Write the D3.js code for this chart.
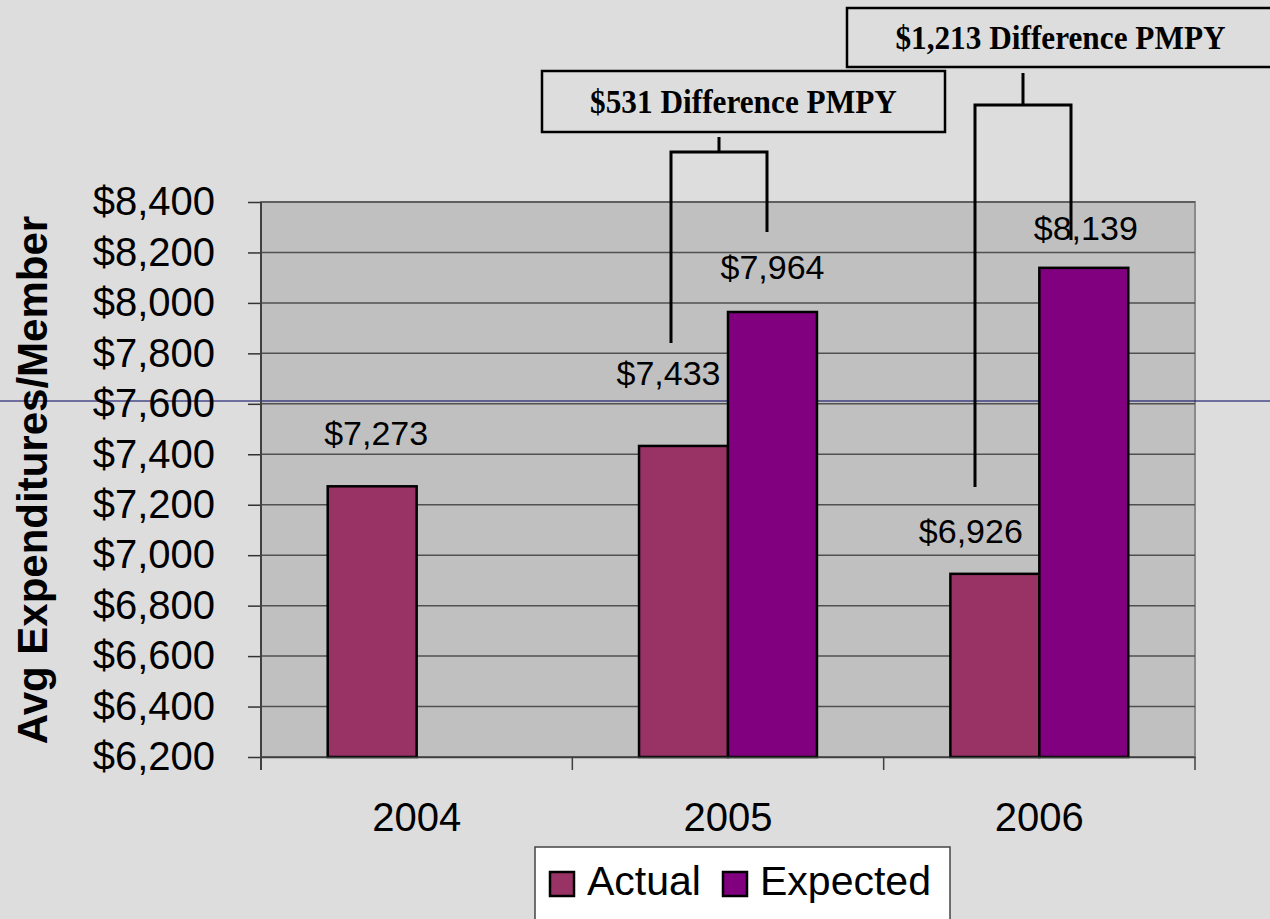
<!DOCTYPE html>
<html>
<head>
<meta charset="utf-8">
<script src="https://cdn.jsdelivr.net/npm/d3@7"></script>
<style>
  html, body { margin: 0; padding: 0; background: #dddddd; }
  svg { display: block; }
</style>
</head>
<body>
<svg class="chart"></svg>
<script>
// Data
const years = ["2004", "2005", "2006"];
const seriesNames = ["Actual", "Expected"];
const actual = [7273, 7433, 6926];
const expected = [null, 7964, 8139];
const yTicks = d3.range(6200, 8401, 200);

const colors = { Actual: "#993366", Expected: "#800080" };

const width = 1270;
const height = 919;
const plot = { left: 261, right: 1195, top: 202, bottom: 757 };

const svg = d3.select("svg.chart")
  .attr("width", width)
  .attr("height", height)
  .attr("viewBox", `0 0 ${width} ${height}`)
  .style("font-family", "'Liberation Sans', Arial, sans-serif");

svg.append("rect")
  .attr("width", width)
  .attr("height", height)
  .attr("fill", "#dddddd");

// Scales
const x = d3.scaleBand()
  .domain(years)
  .range([plot.left, plot.right])
  .padding(0);

const xSub = d3.scaleBand()
  .domain(seriesNames)
  .range([0, x.bandwidth()])
  .paddingInner(0)
  .paddingOuter(0.75);

const y = d3.scaleLinear()
  .domain([6200, 8400])
  .range([plot.bottom, plot.top]);

const fmt = d => "$" + d3.format(",")(d);

// Plot area
svg.append("rect")
  .attr("x", plot.left)
  .attr("y", plot.top)
  .attr("width", plot.right - plot.left)
  .attr("height", plot.bottom - plot.top)
  .attr("fill", "#c0c0c0")
  .attr("stroke", "#8a8a8a")
  .attr("stroke-width", 2);

// Gridlines
svg.append("g")
  .selectAll("line")
  .data(yTicks)
  .join("line")
  .attr("x1", plot.left)
  .attr("x2", plot.right)
  .attr("y1", d => y(d))
  .attr("y2", d => y(d))
  .attr("stroke", "#505050")
  .attr("stroke-width", 1.5);

// stray slide line
svg.append("line")
  .attr("x1", 0)
  .attr("x2", width)
  .attr("y1", 401)
  .attr("y2", 401)
  .attr("stroke", "#000060")
  .attr("stroke-width", 1);

// Bars
const rows = years.map((yr, i) => ({ year: yr, Actual: actual[i], Expected: expected[i] }));
const bars = rows.flatMap(r => seriesNames
  .filter(k => r[k] != null)
  .map(k => ({ year: r.year, key: k, value: r[k] })));

svg.append("g")
  .selectAll("rect")
  .data(bars)
  .join("rect")
  .attr("x", d => x(d.year) + xSub(d.key))
  .attr("y", d => y(d.value))
  .attr("width", xSub.bandwidth())
  .attr("height", d => y.range()[0] - y(d.value))
  .attr("fill", d => colors[d.key])
  .attr("stroke", "#000")
  .attr("stroke-width", 2.5);

// Data labels (hand-placed offsets as in the original slide)
const labelShift = {
  "2004-Actual": [4, -41],
  "2005-Actual": [-15, -61],
  "2005-Expected": [0, -33],
  "2006-Actual": [-24, -31],
  "2006-Expected": [2, -28]
};

svg.append("g")
  .attr("font-size", 34)
  .attr("text-anchor", "middle")
  .selectAll("text")
  .data(bars)
  .join("text")
  .attr("x", d => x(d.year) + xSub(d.key) + xSub.bandwidth() / 2 + labelShift[`${d.year}-${d.key}`][0])
  .attr("y", d => y(d.value) + labelShift[`${d.year}-${d.key}`][1])
  .text(d => fmt(d.value));

// Y axis
svg.append("g")
  .attr("transform", `translate(${plot.left},0)`)
  .call(d3.axisLeft(y).tickValues(yTicks).tickFormat(fmt).tickSize(13).tickPadding(33))
  .call(g => g.select(".domain").remove())
  .call(g => g.selectAll(".tick line").attr("stroke", "#333").attr("stroke-width", 1.5))
  .call(g => g.selectAll(".tick text")
    .attr("font-size", 40)
    .attr("font-family", "'Liberation Sans', Arial, sans-serif")
    .attr("fill", "#000"));

svg.append("line")
  .attr("x1", plot.left).attr("x2", plot.left)
  .attr("y1", plot.top).attr("y2", plot.bottom + 13)
  .attr("stroke", "#404040").attr("stroke-width", 2);

// X axis
svg.append("g")
  .attr("transform", `translate(0,${plot.bottom})`)
  .call(d3.axisBottom(x).tickSize(0).tickPadding(46))
  .call(g => g.select(".domain").attr("stroke", "#404040").attr("stroke-width", 1.5))
  .call(g => g.selectAll(".tick text")
    .attr("font-size", 40)
    .attr("font-family", "'Liberation Sans', Arial, sans-serif")
    .attr("fill", "#000"));

svg.append("g")
  .selectAll("line")
  .data(years.slice(1).concat(["end"]))
  .join("line")
  .attr("x1", d => d === "end" ? plot.right : x(d))
  .attr("x2", d => d === "end" ? plot.right : x(d))
  .attr("y1", plot.bottom)
  .attr("y2", plot.bottom + 13)
  .attr("stroke", "#404040")
  .attr("stroke-width", 1.5);

// Y title
svg.append("text")
  .attr("transform", "translate(47,480) rotate(-90)")
  .attr("text-anchor", "middle")
  .attr("font-size", 42)
  .attr("font-weight", "bold")
  .text("Avg Expenditures/Member");

// Difference callouts
const callouts = [
  { from: 1, box: [542, 71, 403, 61], base: 113, stem: [719, 137, 152], legs: [[671, 343], [767, 232]] },
  { from: 2, box: [847, 8, 427, 59], base: 49, stem: [1023, 73, 105], legs: [[975, 487], [1071, 240]] }
];

const cg = svg.append("g");
callouts.forEach(c => {
  const diff = expected[c.from] - actual[c.from];
  const [bx, by, bw, bh] = c.box;
  cg.append("rect")
    .attr("x", bx).attr("y", by).attr("width", bw).attr("height", bh)
    .attr("fill", "#dddddd").attr("stroke", "#000").attr("stroke-width", 2.5);
  cg.append("text")
    .attr("transform", `translate(${bx + bw / 2},${c.base}) scale(0.92,1)`)
    .attr("text-anchor", "middle")
    .attr("font-family", "'Liberation Serif', 'Times New Roman', serif")
    .attr("font-weight", "bold")
    .attr("font-size", 34)
    .text(`${fmt(diff)} Difference PMPY`);
  const [sx, sy0, sy1] = c.stem;
  const [l, r] = c.legs;
  cg.append("path")
    .attr("d", `M${sx},${sy0}V${sy1}M${l[0]},${l[1]}V${sy1}H${r[0]}V${r[1]}`)
    .attr("fill", "none")
    .attr("stroke", "#000")
    .attr("stroke-width", 3);
});

// Legend
const legend = svg.append("g");
legend.append("rect")
  .attr("x", 535).attr("y", 847).attr("width", 415).attr("height", 100)
  .attr("fill", "#fff").attr("stroke", "#444").attr("stroke-width", 1.5);

const legendX = { Actual: 550, Expected: 723 };
const li = legend.selectAll("g")
  .data(seriesNames)
  .join("g")
  .attr("transform", d => `translate(${legendX[d]},872)`);
li.append("rect")
  .attr("width", 24).attr("height", 24)
  .attr("fill", d => colors[d])
  .attr("stroke", "#000").attr("stroke-width", 2.5);
li.append("text")
  .attr("x", 37).attr("y", 23)
  .attr("font-size", 41)
  .text(d => d);
</script>
</body>
</html>
